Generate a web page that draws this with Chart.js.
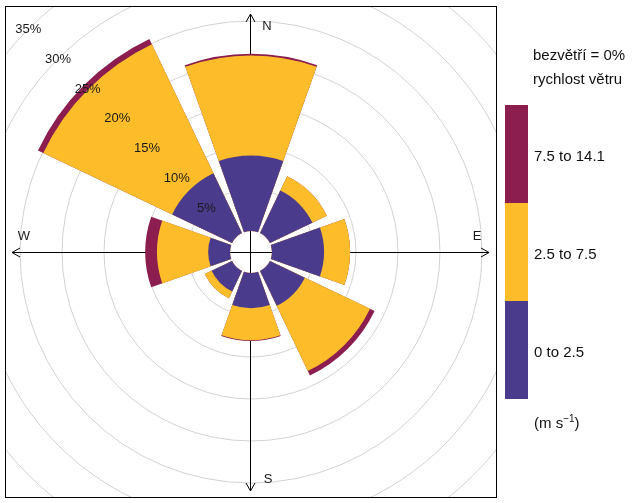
<!DOCTYPE html>
<html>
<head>
<meta charset="utf-8">
<script src="https://cdn.jsdelivr.net/npm/chart.js@4"></script>
<style>
body { margin: 0; background: #fff; font-family: "Liberation Sans", Arial, sans-serif; }
#wrap { position: relative; width: 636px; height: 503px; }
canvas { position: absolute; left: 0; top: 0; }
.txt { position: absolute; font-size: 15px; line-height: 18px; color: #111; white-space: nowrap; }
.key { position: absolute; left: 505px; width: 23px; }
.sup { font-size: 10px; position: relative; top: -6px; }
</style>
</head>
<body>
<div id="wrap">
  <canvas id="rose" width="636" height="503"></canvas>
  <div class="txt" id="calm" style="left:533px;top:46px"></div>
  <div class="txt" id="title" style="left:533px;top:70px"></div>
  <div id="legend"></div>
  <div class="txt" style="left:534px;top:414px">(m s<span class="sup">−1</span>)</div>
</div>
<script>
// wind rose data, % of time per direction and speed class
const directions = ['N', 'NE', 'E', 'SE', 'S', 'SW', 'W', 'NW'];
const speedBins = ['0 to 2.5', '2.5 to 7.5', '7.5 to 14.1'];
const binColours = ['#4B3B8C', '#FDBD2A', '#8B1D4F'];
const freqLow  = [9.0, 5.6, 6.2, 4.6, 4.2, 2.7, 2.6, 7.9];
const freqMid  = [11.9, 1.9, 3.1, 8.6, 3.8, 0.9, 6.1, 17.0];
const freqHigh = [0.2, 0.0, 0.0, 0.6, 0.1, 0.0, 1.4, 0.7];
const pctTicks = [5, 10, 15, 20, 25, 30, 35];
const calmText = 'bezvětří = 0%';
const titleText = 'rychlost větru';

const PX_PER_PCT = 8.4;   // radial scale resolution
const WEDGE = 39, GAP = 6; // degrees

document.getElementById('calm').textContent = calmText;
document.getElementById('title').textContent = titleText;

const legend = document.getElementById('legend');
speedBins.forEach((bin, k) => {
    const row = speedBins.length - 1 - k;
    const top = 105 + row * 98;
    legend.insertAdjacentHTML('beforeend',
        `<div class="key" style="top:${top}px;height:98px;background:${binColours[k]}"></div>` +
        `<div class="txt" style="left:534px;top:${top + 42}px">${bin}</div>`);
});

// stack the classes: each dataset holds the cumulative total
const series = [freqLow, freqMid, freqHigh];
const cumulative = series.map((_, k) =>
    directions.map((d, i) => series.slice(0, k + 1).reduce((s, arr) => s + arr[i], 0)));

// a transparent gap slot follows every direction
const labels = directions.flatMap(d => [d, '']);
const datasets = cumulative.map((vals, k) => ({
    label: speedBins[k],
    data: vals.flatMap(v => [v, 0]),
    backgroundColor: vals.flatMap(() => [binColours[k], 'rgba(0,0,0,0)']),
    angle: vals.flatMap(() => [WEDGE, GAP]),
    borderWidth: 0
}));

const font = '13px "Liberation Sans", Arial, sans-serif';

const roseFrame = {
    id: 'roseFrame',
    afterDatasetUpdate(chart, args) {
        // bars start at the 0 % circle, leaving the centre open
        const r0 = chart.scales.r.getDistanceFromCenterForValue(0);
        args.meta.data.forEach(arc => { arc.innerRadius = r0; });
    },
    beforeDraw(chart) {
        const {ctx, chartArea: a} = chart;
        ctx.save();
        ctx.beginPath();
        ctx.rect(a.left - 0.5, a.top - 0.5, a.width + 1, a.height + 1);
        ctx.clip();
    },
    beforeDatasetsDraw(chart) {
        const {ctx} = chart;
        const r = chart.scales.r;
        const cx = r.xCenter - 0.5, cy = r.yCenter + 0.5;
        const L = 238.5;
        ctx.save();
        ctx.strokeStyle = '#000';
        ctx.lineWidth = 1;
        ctx.beginPath();
        ctx.moveTo(cx, cy - L); ctx.lineTo(cx, cy + L);
        ctx.moveTo(cx - L, cy); ctx.lineTo(cx + L, cy);
        const tips = [[cx, cy - L, 0, -1], [cx + L, cy, 1, 0], [cx, cy + L, 0, 1], [cx - L, cy, -1, 0]];
        tips.forEach(([x, y, dx, dy]) => {
            const bx = x - dx * 8, by = y - dy * 8;
            ctx.moveTo(bx - dy * 4.5, by + dx * 4.5);
            ctx.lineTo(x, y);
            ctx.lineTo(bx + dy * 4.5, by - dx * 4.5);
        });
        ctx.stroke();
        ctx.restore();
    },
    afterDatasetsDraw(chart) {
        const {ctx, chartArea: a} = chart;
        ctx.restore(); // clip from beforeDraw
        const r = chart.scales.r;
        const cx = r.xCenter, cy = r.yCenter;
        ctx.save();
        ctx.strokeStyle = '#000';
        ctx.lineWidth = 1;
        ctx.strokeRect(a.left - 0.5, a.top - 0.5, a.width + 1, a.height + 1);

        ctx.font = font;
        ctx.fillStyle = '#1a1a1a';
        ctx.textAlign = 'center';
        ctx.textBaseline = 'middle';
        pctTicks.forEach(v => {
            const d = r.getDistanceFromCenterForValue(v) * Math.SQRT1_2;
            ctx.fillText(v + '%', cx - d, cy - d + 0.5);
        });
        ctx.fillText('N', cx + 16, cy - 226);
        ctx.fillText('E', cx + 226, cy - 16);
        ctx.fillText('S', cx + 17, cy + 227);
        ctx.fillText('W', cx - 227, cy - 16);
        ctx.restore();
    }
};

new Chart(document.getElementById('rose'), {
    type: 'polarArea',
    data: { labels, datasets },
    options: {
        responsive: false,
        animation: false,
        layout: { padding: { left: 6, top: 7, right: 140, bottom: 6 } },
        plugins: { legend: { display: false }, tooltip: { enabled: false } },
        scales: {
            r: {
                type: 'radialLinear',
                min: -2.5,
                max: 40,
                startAngle: -WEDGE / 2,
                ticks: { display: false, stepSize: 5, includeBounds: false, callback: v => v + '%' },
                grid: {
                    circular: true,
                    lineWidth: 1,
                    color: c => (c.tick && c.tick.value > 0) ? '#d2d2d2' : 'rgba(0,0,0,0)'
                },
                angleLines: { display: false },
                pointLabels: { display: false },
                afterFit: s => { s.drawingArea = PX_PER_PCT * (s.max - s.min); }
            }
        }
    },
    plugins: [roseFrame]
});
</script>
</body>
</html>
